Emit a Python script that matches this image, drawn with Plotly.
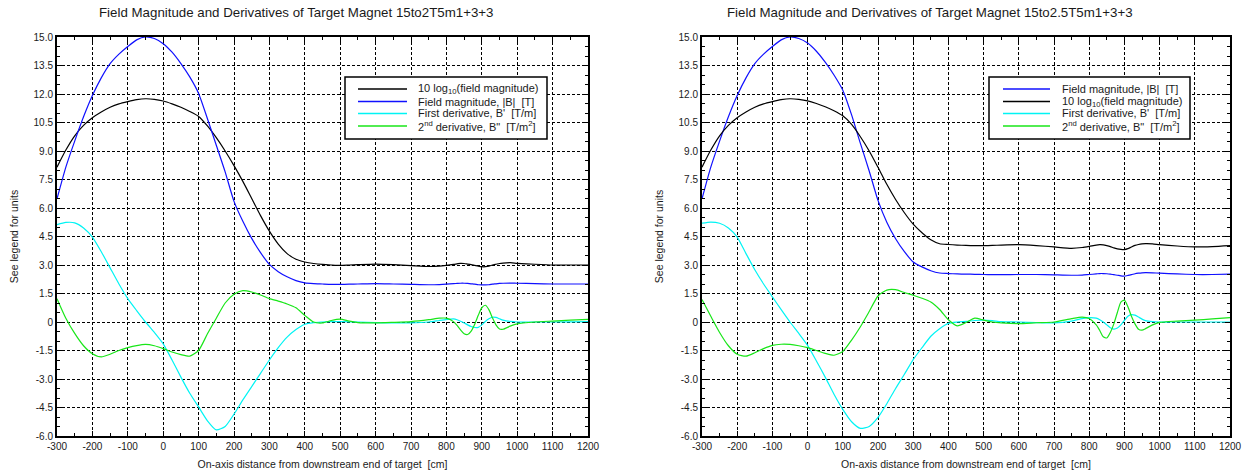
import plotly.graph_objects as go

# ---------------- data ----------------
x_cm = [-300, -275, -250, -225, -200, -175, -150, -125, -100, -75, -50, -25, 0, 25, 50, 75,
        100, 125, 150, 175, 200, 225, 250, 275, 300, 325, 350, 375, 400, 425, 450, 475, 500,
        525, 550, 600, 650, 700, 750, 780, 800,
        820, 830, 840, 850, 860, 870, 880, 890, 900, 910, 920, 930, 940, 950, 960,
        980, 1000, 1050, 1100, 1150, 1200]

# Left panel: 15to2T5m1+3+3
field_L = [6.48, 8.15, 9.52, 10.8, 11.92, 12.85, 13.6, 14.1, 14.5, 14.85, 15.0, 14.92, 14.65, 14.2, 13.6, 12.9,
           12.03, 10.7, 9.3, 7.9, 6.35, 5.3, 4.4, 3.65, 3.03, 2.65, 2.38, 2.18, 2.06, 2.02, 2.0, 1.98, 1.98,
           1.99, 2.0, 2.02, 2.0, 1.98, 1.96, 1.97, 1.99,
           2.02, 2.03, 2.04, 2.04, 2.03, 2.01, 1.99, 1.96, 1.95, 1.95, 1.96, 1.99, 2.01, 2.03, 2.04,
           2.05, 2.04, 2.02, 2.0, 2.0, 2.0]
log_L = [8.15, 9.05, 9.8, 10.35, 10.75, 11.05, 11.3, 11.48, 11.6, 11.7, 11.75, 11.72, 11.63, 11.48, 11.3, 11.08,
         10.82, 10.32, 9.7, 9.0, 8.23, 7.4, 6.5, 5.6, 4.78, 4.1, 3.6, 3.3, 3.16, 3.08, 3.03, 3.0, 2.98,
         3.0, 3.02, 3.05, 3.02, 2.97, 2.92, 2.94, 2.98,
         3.03, 3.06, 3.09, 3.08, 3.05, 3.02, 2.98, 2.94, 2.91, 2.91, 2.94, 3.0, 3.04, 3.08, 3.1,
         3.12, 3.09, 3.04, 3.0, 3.0, 3.0]
d1_L = [5.12, 5.24, 5.22, 4.95, 4.47, 3.7, 2.85, 2.0, 1.23, 0.6, 0.0, -0.55, -1.15, -2.0, -2.9, -3.75,
        -4.47, -5.2, -5.68, -5.5, -4.85, -4.1, -3.4, -2.7, -2.0, -1.35, -0.8, -0.4, -0.12, -0.03, 0.0, 0.02, 0.02,
        0.01, 0.0, -0.03, -0.05, -0.05, 0.0, 0.08, 0.13,
        0.16, 0.12, 0.04, -0.05, -0.15, -0.24, -0.29, -0.28, -0.15, 0.03, 0.17, 0.25, 0.24, 0.17, 0.1,
        0.03, 0.0, 0.0, 0.0, 0.01, 0.02]
d2_L = [1.23, 0.2, -0.6, -1.25, -1.67, -1.84, -1.7, -1.5, -1.35, -1.24, -1.18, -1.25, -1.4, -1.58, -1.72, -1.8,
        -1.5, -0.62, 0.2, 1.0, 1.46, 1.65, 1.58, 1.42, 1.23, 1.1, 0.95, 0.75, 0.35, 0.0, -0.05, 0.08, 0.15,
        0.05, -0.03, -0.05, -0.02, 0.02, 0.12, 0.2, 0.2,
        0.02, -0.18, -0.42, -0.62, -0.66, -0.48, -0.12, 0.35, 0.75, 0.88, 0.65, 0.22, -0.15, -0.37, -0.38,
        -0.22, -0.1, 0.0, 0.05, 0.1, 0.14]

# Right panel: 15to2.5T5m1+3+3
field_R = [6.48, 8.15, 9.52, 10.8, 11.92, 12.85, 13.6, 14.1, 14.5, 14.85, 15.0, 14.92, 14.68, 14.25, 13.68, 13.0,
           12.2, 10.9, 9.4, 7.95, 6.4, 5.25, 4.38, 3.7, 3.16, 2.9, 2.7, 2.58, 2.55, 2.53, 2.52, 2.51, 2.5,
           2.49, 2.49, 2.5, 2.5, 2.48, 2.46, 2.47, 2.5,
           2.53, 2.55, 2.55, 2.54, 2.52, 2.49, 2.46, 2.43, 2.42, 2.45, 2.49, 2.54, 2.57, 2.59, 2.6,
           2.59, 2.57, 2.53, 2.5, 2.5, 2.52]
log_R = [8.15, 9.05, 9.8, 10.35, 10.75, 11.05, 11.3, 11.48, 11.6, 11.7, 11.75, 11.72, 11.64, 11.5, 11.33, 11.12,
         10.85, 10.4, 9.75, 9.0, 8.14, 7.25, 6.45, 5.75, 5.15, 4.7, 4.33, 4.12, 4.08, 4.05, 4.03, 4.02, 4.02,
         4.03, 4.05, 4.07, 4.02, 3.95, 3.88, 3.92, 3.98,
         4.05, 4.07, 4.06, 4.02, 3.97, 3.9, 3.85, 3.82, 3.81, 3.86, 3.95, 4.03, 4.08, 4.11, 4.12,
         4.11, 4.07, 4.0, 3.95, 3.97, 4.02]
d1_R = [5.2, 5.26, 5.2, 4.95, 4.47, 3.6, 2.75, 2.0, 1.32, 0.65, 0.0, -0.6, -1.23, -2.05, -2.9, -3.8,
        -4.6, -5.25, -5.6, -5.5, -5.02, -4.3, -3.5, -2.75, -1.98, -1.35, -0.75, -0.35, -0.07, 0.0, 0.03, 0.08, 0.1,
        0.07, 0.02, 0.0, -0.03, -0.05, 0.05, 0.18, 0.23,
        0.2, 0.12, 0.0, -0.15, -0.3, -0.37, -0.32, -0.15, 0.08, 0.3, 0.39, 0.36, 0.26, 0.15, 0.07,
        0.02, 0.0, 0.0, 0.0, 0.0, 0.0]
d2_R = [1.18, 0.3, -0.55, -1.25, -1.7, -1.8, -1.62, -1.4, -1.23, -1.17, -1.18, -1.25, -1.35, -1.5, -1.65, -1.75,
        -1.55, -0.95, -0.25, 0.55, 1.37, 1.68, 1.7, 1.55, 1.41, 1.25, 1.05, 0.66, 0.12, -0.2, -0.03, 0.2, 0.1,
        0.0, -0.05, -0.09, -0.04, 0.0, 0.18, 0.26, 0.18,
        -0.15, -0.45, -0.78, -0.84, -0.55, -0.1, 0.5, 1.05, 1.15, 0.8, 0.3, -0.1, -0.38, -0.43, -0.35,
        -0.15, -0.02, 0.05, 0.1, 0.16, 0.23]

titles = ["Field Magnitude and Derivatives of Target Magnet 15to2T5m1+3+3",
          "Field Magnitude and Derivatives of Target Magnet 15to2.5T5m1+3+3"]
x_title = "On-axis distance from downstream end of target  [cm]"
y_title = "See legend for units"
name_log = "10 log<sub>10</sub>(field magnitude)"
name_field = "Field magnitude, |B|  [T]"
name_d1 = "First derivative, B'  [T/m]"
name_d2 = "2<sup>nd</sup> derivative, B\"  [T/m<sup>2</sup>]"

x_tickvals = [-300, -200, -100, 0, 100, 200, 300, 400, 500, 600, 700, 800, 900, 1000, 1100, 1200]
x_ticktext = ["-300", "-200", "-100", "0", "100", "200", "300", "400", "500", "600", "700", "800",
              "900", "1000", "1100", "1200"]
y_tickvals = [-6.0, -4.5, -3.0, -1.5, 0, 1.5, 3.0, 4.5, 6.0, 7.5, 9.0, 10.5, 12.0, 13.5, 15.0]
y_ticktext = ["-6.0", "-4.5", "-3.0", "-1.5", "0", "1.5", "3.0", "4.5", "6.0", "7.5", "9.0",
              "10.5", "12.0", "13.5", "15.0"]

# ---------------- styling ----------------
W, H = 1244, 475
FONT = "Liberation Sans, Arial, sans-serif"
TXT = "#1a1a1a"
C_BLACK, C_BLUE, C_CYAN, C_GREEN = "#000000", "#1010ff", "#00f4f4", "#19e619"


def px(xp):
    return xp / W


def py(yp):
    return 1 - yp / H


fig = go.Figure()

panels = [
    dict(xa="x", ya="y", series=[(name_log, log_L, C_BLACK), (name_field, field_L, C_BLUE),
                                 (name_d1, d1_L, C_CYAN), (name_d2, d2_L, C_GREEN)]),
    dict(xa="x2", ya="y2", series=[(name_field, field_R, C_BLUE), (name_log, log_R, C_BLACK),
                                   (name_d1, d1_R, C_CYAN), (name_d2, d2_R, C_GREEN)]),
]
for p in panels:
    for nm, vals, col in p["series"]:
        fig.add_trace(go.Scatter(x=x_cm, y=vals, mode="lines", name=nm, xaxis=p["xa"], yaxis=p["ya"],
                                 line=dict(color=col, width=1.2, shape="spline", smoothing=0.6),
                                 showlegend=False, hoverinfo="skip"))

axis_common = dict(showline=True, linecolor="black", linewidth=2, mirror="allticks",
                   ticks="inside", ticklen=5, tickcolor="black", tickwidth=1,
                   showgrid=True, gridcolor="black", gridwidth=1, griddash="3px,2px",
                   zeroline=False, automargin=False,
                   tickfont=dict(family=FONT, size=10, color=TXT))

xdom = [[px(57), px(588)], [px(702), px(1230)]]
ydom = [py(436), py(37)]

for i, (xk, yk) in enumerate([("xaxis", "yaxis"), ("xaxis2", "yaxis2")]):
    anchor_y = "y" if i == 0 else "y2"
    anchor_x = "x" if i == 0 else "x2"
    fig.update_layout({
        xk: dict(axis_common, domain=xdom[i], anchor=anchor_y, range=[-300, 1200],
                 tickmode="array", tickvals=x_tickvals, ticktext=x_ticktext,
                 minor=dict(dtick=50, tick0=-300, ticks="inside", ticklen=3, tickcolor="black", showgrid=False),
                 title=dict(text=x_title, font=dict(family=FONT, size=10.5, color=TXT), standoff=10)),
        yk: dict(axis_common, domain=ydom, anchor=anchor_x, range=[-6, 15],
                 tickmode="array", tickvals=y_tickvals, ticktext=y_ticktext,
                 minor=dict(dtick=0.5, tick0=0, ticks="inside", ticklen=3, tickcolor="black", showgrid=False),
                 title=dict(text=y_title, font=dict(family=FONT, size=10.5, color=TXT), standoff=13)),
    })

# titles
annotations = []
for t, cx in zip(titles, [296, 930]):
    annotations.append(dict(text=t, x=px(cx), y=py(12), xref="paper", yref="paper", showarrow=False,
                            xanchor="center", yanchor="middle", font=dict(family=FONT, size=13.3, color=TXT)))

# legends (drawn as boxes with sample lines and labels)
shapes = []
legend_specs = [
    dict(box=(345, 77, 547, 139), line=(358, 407), text_x=416, order=panels[0]["series"]),
    dict(box=(989, 77, 1190, 139), line=(1003, 1050), text_x=1060, order=panels[1]["series"]),
]
rows = [89, 101.5, 113.5, 126]
for spec in legend_specs:
    x0, y0, x1, y1 = spec["box"]
    shapes.append(dict(type="rect", xref="paper", yref="paper", x0=px(x0), x1=px(x1), y0=py(y1), y1=py(y0),
                       line=dict(color="black", width=1.5), fillcolor="white", layer="above"))
    for (nm, _, col), ry in zip(spec["order"], rows):
        shapes.append(dict(type="line", xref="paper", yref="paper", x0=px(spec["line"][0]), x1=px(spec["line"][1]),
                           y0=py(ry), y1=py(ry), line=dict(color=col, width=1.5), layer="above"))
        annotations.append(dict(text=nm, x=px(spec["text_x"]), y=py(ry), xref="paper", yref="paper",
                                showarrow=False, xanchor="left", yanchor="middle",
                                font=dict(family=FONT, size=11, color=TXT)))

fig.update_layout(width=W, height=H, margin=dict(l=0, r=0, t=0, b=0), autosize=False,
                  paper_bgcolor="white", plot_bgcolor="white", showlegend=False,
                  annotations=annotations, shapes=shapes, font=dict(family=FONT))

fig.write_html("out.html")
